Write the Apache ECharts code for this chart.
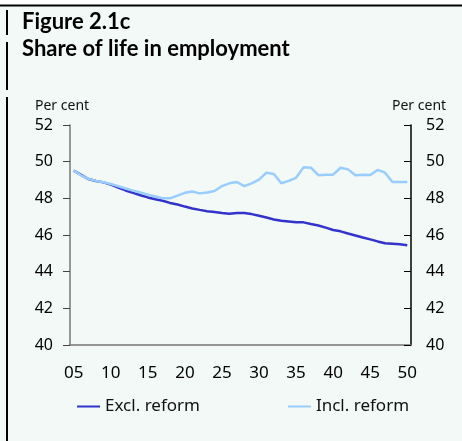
<!DOCTYPE html>
<html>
<head>
<meta charset="utf-8">
<script src="https://cdn.jsdelivr.net/npm/echarts@6/dist/echarts.min.js"></script>
<style>
html,body{margin:0;padding:0;background:#ffffff;}
#c{width:462px;height:441px;}
</style>
</head>
<body>
<div id="c"></div>
<script>
const years = [2005,2006,2007,2008,2009,2010,2011,2012,2013,2014,2015,2016,2017,2018,2019,2020,2021,2022,2023,2024,2025,2026,2027,2028,2029,2030,2031,2032,2033,2034,2035,2036,2037,2038,2039,2040,2041,2042,2043,2044,2045,2046,2047,2048,2049,2050];
const exclReform = [49.51,49.28,49.05,48.95,48.87,48.75,48.58,48.43,48.30,48.17,48.05,47.95,47.87,47.75,47.66,47.55,47.45,47.37,47.30,47.25,47.20,47.16,47.20,47.20,47.14,47.05,46.95,46.85,46.78,46.74,46.70,46.69,46.60,46.52,46.40,46.27,46.20,46.08,45.97,45.86,45.76,45.65,45.55,45.52,45.49,45.44];
const inclReform = [49.51,49.25,49.06,48.95,48.88,48.78,48.66,48.54,48.42,48.32,48.20,48.10,48.00,48.00,48.15,48.30,48.37,48.27,48.32,48.40,48.67,48.82,48.89,48.67,48.82,49.02,49.40,49.33,48.82,48.95,49.12,49.69,49.67,49.26,49.29,49.29,49.67,49.58,49.26,49.29,49.27,49.55,49.40,48.89,48.89,48.89];
const yTicks = {min:40, max:52, step:2};
const seriesNames = ['Excl. reform','Incl. reform'];
const titleLines = ['Figure 2.1c','Share of life in employment'];
const unitLabel = 'Per cent';

const FONT = 'Noto Sans';
const chart = echarts.init(document.getElementById('c'), null, {renderer:'canvas'});
const yAxisBase = {
  type:'value', min:yTicks.min, max:yTicks.max, interval:yTicks.step,
  splitLine:{show:false},
  axisLabel:{color:'#000', fontFamily:FONT, fontSize:16}
};
chart.setOption({
  animation:false,
  backgroundColor:'#f2f9f7',
  textStyle:{fontFamily:FONT},
  graphic:[
    {type:'rect', shape:{x:0,y:0,width:462,height:5}, style:{fill:'#ffffff'}, silent:true, z:-1},
    {type:'line', shape:{x1:0,y1:5.5,x2:462,y2:5.5}, style:{stroke:'#000',lineWidth:2}},
    {type:'line', shape:{x1:7,y1:10,x2:7,y2:35}, style:{stroke:'#000',lineWidth:2}},
    {type:'line', shape:{x1:7,y1:42,x2:7,y2:90}, style:{stroke:'#000',lineWidth:2}},
    {type:'line', shape:{x1:7,y1:97,x2:7,y2:441}, style:{stroke:'#000',lineWidth:2}},
    {type:'text', left:22, top:11, style:{text:titleLines[0], font:'bold 22px Lato', fill:'#000'}},
    {type:'text', left:22, top:38, style:{text:titleLines[1], font:'bold 22px Lato', fill:'#000'}},
    {type:'text', left:35, top:99, style:{text:unitLabel, font:'14px "Noto Sans"', fill:'#111'}},
    {type:'text', left:392, top:99, style:{text:unitLabel, font:'14px "Noto Sans"', fill:'#111'}}
  ],
  grid:{left:70, right:51, top:125, bottom:96},
  legend:{
    left:77, top:398, padding:0, itemWidth:23, itemHeight:2, itemGap:88, icon:'rect',
    textStyle:{fontFamily:FONT, fontSize:17, color:'#111'},
    data:seriesNames
  },
  xAxis:{
    type:'category', data:years, boundaryGap:true,
    axisLine:{lineStyle:{color:'#777', width:1.5}},
    axisTick:{interval:4, inside:true, length:5, lineStyle:{color:'#444'}},
    axisLabel:{interval:4, margin:20, color:'#000', fontFamily:FONT, fontSize:17,
      formatter:v => String(v).slice(2)}
  },
  yAxis:[
    Object.assign({}, yAxisBase, {position:'left',
      axisLine:{show:true, lineStyle:{color:'#777', width:1.5}},
      axisTick:{show:true, inside:false, length:7, lineStyle:{color:'#444'}},
      axisLabel:Object.assign({}, yAxisBase.axisLabel, {margin:17})}),
    Object.assign({}, yAxisBase, {position:'right',
      axisLine:{show:true, lineStyle:{color:'#000', width:1.5}},
      axisTick:{show:true, inside:true, length:7, lineStyle:{color:'#000'}},
      axisLabel:Object.assign({}, yAxisBase.axisLabel, {margin:15})})
  ],
  series:[
    {name:seriesNames[0], type:'line', data:exclReform, symbol:'none',
     lineStyle:{color:'#3333cc', width:2.5}, itemStyle:{color:'#3333cc'}},
    {name:seriesNames[1], type:'line', data:inclReform, symbol:'none',
     lineStyle:{color:'#99ccff', width:2.5}, itemStyle:{color:'#99ccff'}}
  ]
});
</script>
</body>
</html>
